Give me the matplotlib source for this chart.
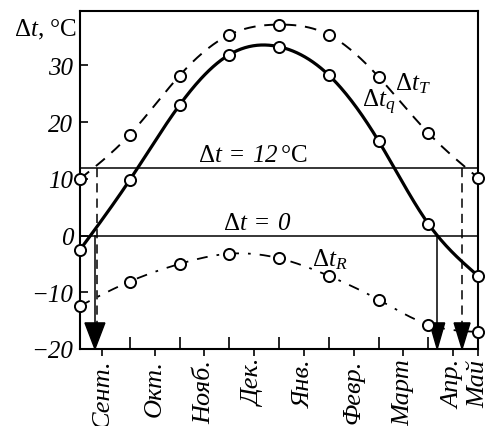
import numpy as np
import matplotlib
matplotlib.use("Agg")
import matplotlib.pyplot as plt

plt.rcParams['font.family'] = 'serif'
plt.rcParams['font.serif'] = ['Liberation Serif', 'DejaVu Serif']
plt.rcParams['mathtext.fontset'] = 'custom'
plt.rcParams['mathtext.rm'] = 'Liberation Serif'
plt.rcParams['mathtext.it'] = 'Liberation Serif:italic'
plt.rcParams['mathtext.bf'] = 'Liberation Serif:bold'
plt.rcParams['mathtext.sf'] = 'Liberation Serif:italic'   # used for italic digits

# ---- data ----
points = np.arange(9)                      # month boundaries Sept .. May
dt_T = [10.0, 17.8, 28.2, 35.4, 37.2, 35.4, 28.0, 18.1, 10.2]
dt_q = [-2.5, 9.8, 23.0, 31.9, 33.3, 28.3, 16.7, 2.1, -7.1]
dt_R = [-12.4, -8.1, -5.0, -3.2, -4.0, -7.1, -11.3, -15.7, -17.0]
month_labels = ['Сент.', 'Окт.', 'Нояб.', 'Дек.', 'Янв.', 'Февр.', 'Март', 'Апр.', 'Май']
month_label_pos = [0.45, 1.5, 2.5, 3.5, 4.5, 5.5, 6.5, 7.5, 8.0]
yticks = [-20, -10, 0, 10, 20, 30]
ytick_labels = ['\u221220', '\u221210', '0', '10', '20', '30']
levels = [0, 12]
# season start/end points (crossings of Δt=0 and Δt=12)
cross_q = [0.30, 7.18]     # Δt_q = 0
cross_T = [0.34, 7.68]     # Δt_T = 12


def spline(x, y, n=300):
    x = np.asarray(x, float); y = np.asarray(y, float)
    m = len(x); h = np.diff(x)
    A = np.zeros((m, m)); b = np.zeros(m)
    A[0, 0] = A[-1, -1] = 1
    for i in range(1, m - 1):
        A[i, i - 1] = h[i - 1]; A[i, i] = 2 * (h[i - 1] + h[i]); A[i, i + 1] = h[i]
        b[i] = 3 * ((y[i + 1] - y[i]) / h[i] - (y[i] - y[i - 1]) / h[i - 1])
    c = np.linalg.solve(A, b)
    xs = np.linspace(x[0], x[-1], n)
    idx = np.clip(np.searchsorted(x, xs) - 1, 0, m - 2)
    dx = xs - x[idx]
    bb = (y[idx + 1] - y[idx]) / h[idx] - h[idx] * (2 * c[idx] + c[idx + 1]) / 3
    d = (c[idx + 1] - c[idx]) / (3 * h[idx])
    return xs, y[idx] + bb * dx + c[idx] * dx ** 2 + d * dx ** 3


fig = plt.figure(figsize=(4.94, 4.27), dpi=100)
ax = fig.add_axes([80 / 494, 1 - 350 / 427, 398 / 494, 338 / 427])
ax.set_xlim(0, 8)
ax.set_ylim(-20, 39.6)

for lv in levels:
    ax.axhline(lv, color='black', lw=1.1, zorder=1)

xs, ys = spline(points, dt_q)
ax.plot(xs, ys, color='black', lw=2.3, zorder=2)
xs, ys = spline(points, dt_T)
ax.plot(xs, ys, color='black', lw=1.4, dashes=(6, 4.5), zorder=2)
xs, ys = spline(points, dt_R)
ax.plot(xs, ys, color='black', lw=1.3, dashes=(6, 5, 1.5, 5), zorder=2)

mk = dict(marker='o', ms=8, mfc='white', mec='black', mew=1.4, ls='none', clip_on=False, zorder=4)
ax.plot(points, dt_T, **mk)
ax.plot(points, dt_q, **mk)
ax.plot(points, dt_R, **mk)

# vertical lines and arrows
for xq in cross_q:
    ax.plot([xq, xq], [0, -16], color='black', lw=1.1, zorder=1)
for xt in cross_T:
    ax.plot([xt, xt], [12, -16], color='black', lw=1.1, dashes=(6, 4), zorder=1)
for xa, hw in [(0.30, 0.2), (7.18, 0.15), (7.68, 0.16)]:
    ax.fill([xa - hw, xa + hw, xa], [-15.4, -15.4, -20], color='black', zorder=3, clip_on=False)

# ticks
ax.set_yticks(yticks)
ax.set_yticklabels(ytick_labels, fontsize=18, style='italic')
ax.tick_params(axis='y', direction='in', length=6, width=1.2, pad=5)
ax.set_xticks(points[1:-1])
ax.set_xticklabels([])
ax.tick_params(axis='x', which='major', direction='in', length=9, width=1.2)
ax.set_xticks(month_label_pos, minor=True)
ax.set_xticklabels(month_labels, minor=True, rotation=90, fontsize=19, style='italic', va='top')
ax.tick_params(axis='x', which='minor', direction='out', length=5, width=1.2, pad=2)

for s in ax.spines.values():
    s.set_linewidth(1.5)

# labels
fig.text(14 / 494, 1 - 30 / 427, r'$\Delta t$, °C', fontsize=18, va='center', ha='left')
ax.text(6.33, 26.9, r'$\Delta t_T$', fontsize=18, va='center', ha='left')
ax.text(5.67, 23.6, r'$\Delta t_q$', fontsize=18, va='center', ha='left')
ax.text(3.48, 12.3, r'$\Delta t\;=\;\mathsf{12}\,$°C', fontsize=18, va='bottom', ha='center')
ax.text(3.56, 0.3, r'$\Delta t\;=\;\mathsf{0}$', fontsize=18, va='bottom', ha='center')
ax.text(4.66, -4.1, r'$\Delta t_R$', fontsize=18, va='center', ha='left')

fig.savefig('out.png', dpi=100)
